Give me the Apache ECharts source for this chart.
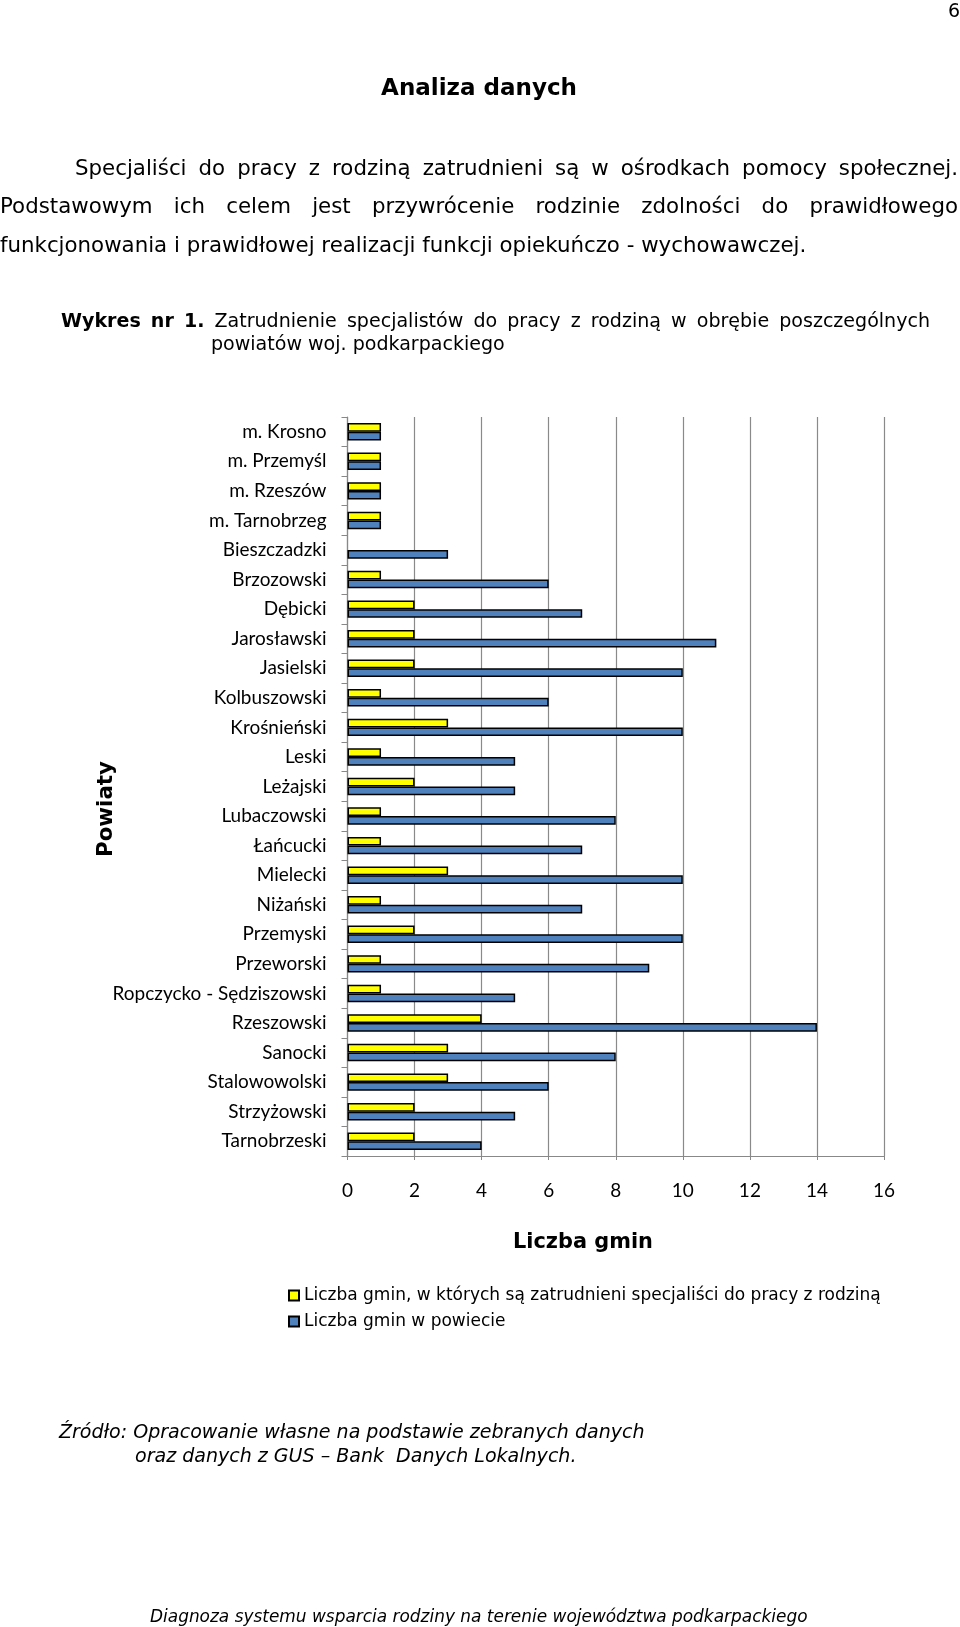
<!DOCTYPE html>
<html><head><meta charset="utf-8">
<script src="https://cdn.jsdelivr.net/npm/echarts@6/dist/echarts.min.js"></script>
<style>html,body{margin:0;padding:0;background:#fff}#c{width:960px;height:1627px}</style>
</head><body><div id="c"></div>
<script>
// ---- data ----
const categories = ['m. Krosno','m. Przemyśl','m. Rzeszów','m. Tarnobrzeg','Bieszczadzki','Brzozowski','Dębicki','Jarosławski','Jasielski','Kolbuszowski','Krośnieński','Leski','Leżajski','Lubaczowski','Łańcucki','Mielecki','Niżański','Przemyski','Przeworski','Ropczycko - Sędziszowski','Rzeszowski','Sanocki','Stalowowolski','Strzyżowski','Tarnobrzeski'];
const employed = [1,1,1,1,0,1,2,2,2,1,3,1,2,1,1,3,1,2,1,1,4,3,3,2,2];
const total    = [1,1,1,1,3,6,7,11,10,6,10,5,5,8,7,10,7,10,9,5,14,8,6,5,4];
const seriesNames = ['Liczba gmin, w których są zatrudnieni specjaliści do pracy z rodziną','Liczba gmin w powiecie'];
const xMin = 0, xMax = 16, xStep = 2;

// ---- text helpers ----
const ctx = document.createElement('canvas').getContext('2d');
function measure(t, size, fam, w, s){ ctx.font = (s||'normal')+' '+(w||'normal')+' '+size+'px '+fam; return ctx.measureText(t).width; }
function fit(t, target, fam, w, s){ return 20*target/measure(t,20,fam,w,s); }
const DV = "'DejaVu Sans'";
const LA = "Lato";
function txt(t, x, baseY, size, opts){
  opts = opts||{};
  return {type:'text', x:x, y: baseY - 0.35*size + 1, rotation: opts.rot||0,
    style:{text:t, fontSize:size, fontFamily:opts.fam||DV, fontWeight:opts.w||'normal', fontStyle:opts.s||'normal',
      fill:'#000', align:opts.align||'left', verticalAlign:'middle'}};
}
function justify(words, x0, x1, baseY, size, fam){
  const ws = words.map(o=>measure(o.t,size,fam,o.w||'normal','normal'));
  const sum = ws.reduce((a,b)=>a+b,0);
  const gap = (x1-x0-sum)/(words.length-1);
  let x = x0; const out=[];
  words.forEach((o,i)=>{ out.push(txt(o.t,x,baseY,size,{fam:fam,w:o.w})); x += ws[i]+gap; });
  return out;
}
const W = s=>s.split(' ').map(t=>({t:t}));

const g = [];
g.push(txt('6', 948, 18, 19));
const titleSize = fit('Analiza danych',196,DV,'bold');
g.push(txt('Analiza danych', 479, 96, titleSize, {w:'bold', align:'center'}));
const l3 = 'funkcjonowania i prawidłowej realizacji funkcji opiekuńczo - wychowawczej.';
const bodySize = fit(l3, 807, DV);
g.push(...justify(W('Specjaliści do pracy z rodziną zatrudnieni są w ośrodkach pomocy społecznej.'), 75, 958, 176, bodySize, DV));
g.push(...justify(W('Podstawowym ich celem jest przywrócenie rodzinie zdolności do prawidłowego'), 0, 958, 214, bodySize, DV));
g.push(txt(l3, 0, 253, bodySize));
const capSize = fit('powiatów woj. podkarpackiego', 294, DV);
g.push(...justify([{t:'Wykres',w:'bold'},{t:'nr',w:'bold'},{t:'1.',w:'bold'}].concat(W('Zatrudnienie specjalistów do pracy z rodziną w obrębie poszczególnych')), 61, 930, 328, capSize, DV));
g.push(txt('powiatów woj. podkarpackiego', 211, 351, capSize));
const axSize = fit('Powiaty', 96, DV, 'bold');
g.push({type:'text', x:106, y:809, rotation:Math.PI/2, style:{text:'Powiaty', fontSize:axSize, fontFamily:DV, fontWeight:'bold', fill:'#000', align:'center', verticalAlign:'middle'}});
const xnSize = fit('Liczba gmin', 140, DV, 'bold');
g.push(txt('Liczba gmin', 583, 1249, xnSize, {w:'bold', align:'center'}));
const s1 = fit('Źródło: Opracowanie własne na podstawie zebranych danych', 586, DV, 'normal', 'italic');
g.push(txt('Źródło: Opracowanie własne na podstawie zebranych danych', 59, 1439, s1, {s:'italic'}));
g.push(txt('oraz danych z GUS – Bank  Danych Lokalnych.', 135, 1463, s1, {s:'italic'}));
const fSize = fit('Diagnoza systemu wsparcia rodziny na terenie województwa podkarpackiego', 658, DV, 'normal', 'italic');
g.push(txt('Diagnoza systemu wsparcia rodziny na terenie województwa podkarpackiego', 150, 1623, fSize, {s:'italic'}));

const catSize = fit('Ropczycko - Sędziszowski', 214, LA);
const legSize = fit(seriesNames[0], 577, DV);

const chart = echarts.init(document.getElementById('c'), null, {renderer:'canvas'});
chart.setOption({
  animation:false,
  backgroundColor:'#fff',
  grid:{left:347.5, right:76, top:417, bottom:471, containLabel:false},
  xAxis:{type:'value', min:xMin, max:xMax, interval:xStep,
    axisLine:{show:true, lineStyle:{color:'#888', width:1}},
    axisTick:{show:true, length:4, lineStyle:{color:'#888'}},
    splitLine:{show:true, lineStyle:{color:'#8a8a8a', width:1.2}},
    axisLabel:{color:'#000', fontFamily:LA, fontSize:catSize, margin:25}},
  yAxis:{type:'category', inverse:true, data:categories,
    axisLine:{show:true, lineStyle:{color:'#888', width:1.2}},
    axisTick:{show:true, length:6, lineStyle:{color:'#888'}},
    axisLabel:{color:'#000', fontFamily:LA, fontSize:catSize, margin:21}},
  legend:[
    {data:[seriesNames[0]], left:288, top:1287, padding:0, itemWidth:10, itemHeight:10, icon:'rect', textStyle:{fontFamily:DV, fontSize:legSize, color:'#000'}},
    {data:[seriesNames[1]], left:288, top:1313, padding:0, itemWidth:10, itemHeight:10, icon:'rect', textStyle:{fontFamily:DV, fontSize:legSize, color:'#000'}}
  ],
  series:[
    {name:seriesNames[0], type:'bar', data:employed.map(v=>v===0?'-':v), barGap:'0%', barCategoryGap:'41%',
      itemStyle:{color:'#FFFF00', borderColor:'#000', borderWidth:1.5}},
    {name:seriesNames[1], type:'bar', data:total, barGap:'0%', barCategoryGap:'41%',
      itemStyle:{color:'#4F81BD', borderColor:'#000', borderWidth:1.5}}
  ],
  graphic:{elements:g}
});
</script>
</body></html>
